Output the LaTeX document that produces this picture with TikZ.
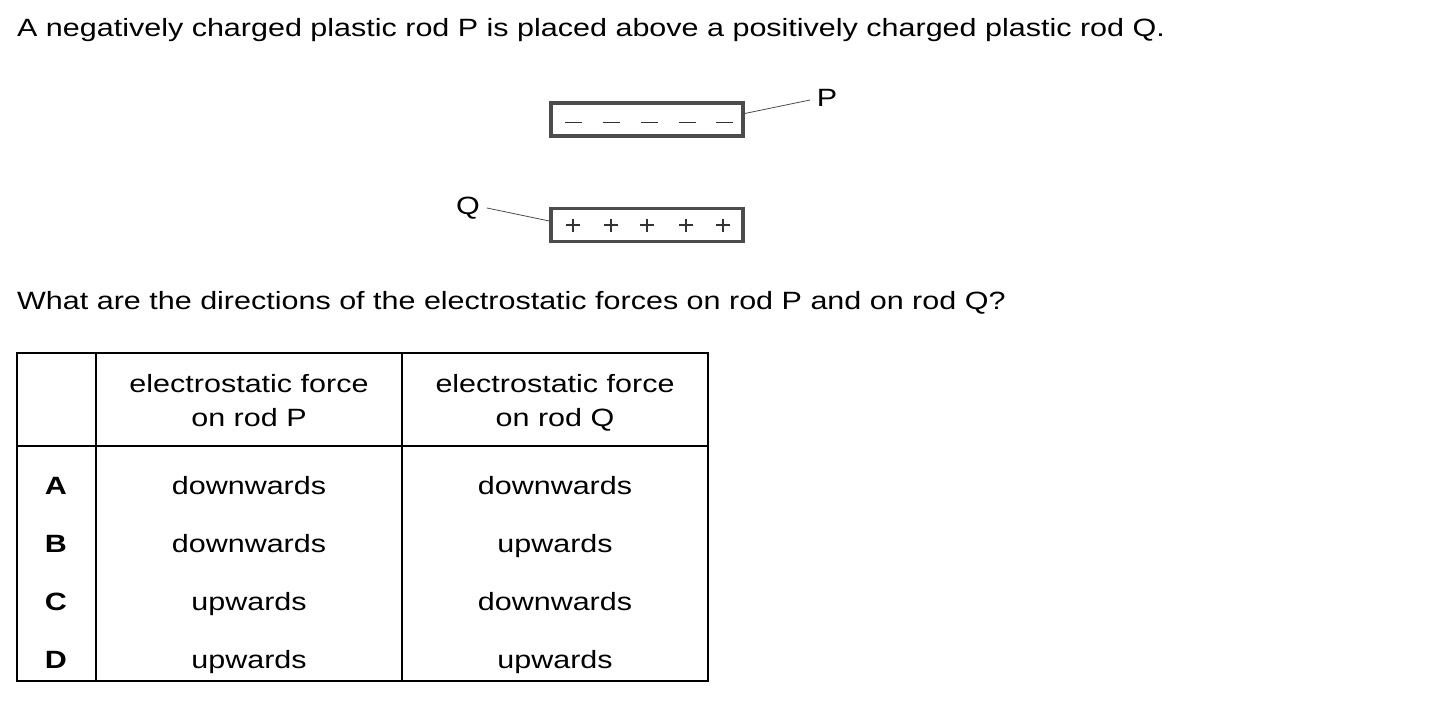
\documentclass[tikz,border=0pt]{standalone}
\usepackage{fontspec}
\setmainfont{Liberation Sans}[FakeStretch=1.22]
\begin{document}
\begin{tikzpicture}[x=1pt,y=-1pt,
  txt/.style={inner sep=0pt,text height=18pt,text depth=5pt,font=\fontsize{25}{34}\selectfont},
  rod/.style={draw=black!70,line width=3.5pt,minimum width=192pt,minimum height=33pt,inner sep=0pt},
  chg/.style={line width=1.4pt,black!80},
  leader/.style={line width=0.8pt,black!70},
  grid/.style={line width=1.4pt}]
\useasboundingbox (0,0) rectangle (1442,706);
\node[txt,anchor=west] (t1) at (17,30.5) {A negatively charged plastic rod P is placed above a positively charged plastic rod Q.};
% rod P
\node[rod] (rodP) at (647,119.5) {};
\foreach \x in {573,611,649,687,724} \draw[chg] (\x-8.5,122.5) -- (\x+8.5,122.5);
\node[txt] (lP) at (827,100) {P};
\coordinate (pE) at (810,100);
\draw[leader] (rodP.east) ++(0,-6) coordinate (pS) -- (pE);
% rod Q
\node[rod] (rodQ) at (647,225) {};
\foreach \x in {573,611,647,686,723} {\draw[chg] (\x-7,225) -- (\x+7,225); \draw[chg] (\x,218.5) -- (\x,231.5);}
\node[txt] (lQ) at (468,208) {Q};
\coordinate (qE) at (487,208);
\draw[leader] (rodQ.west) ++(0,-4) coordinate (qS) -- (qE);
\node[txt,anchor=west] (t2) at (17,302.5) {What are the directions of the electrostatic forces on rod P and on rod Q?};
% table
\draw[grid] (17,353) rectangle (708,681);
\draw[grid] (17,446) -- (708,446);
\draw[grid] (96,353) -- (96,681);
\draw[grid] (402,353) -- (402,681);
\node[txt] (h1a) at (249,385.5) {electrostatic force};
\node[txt] (h1b) at (249,419.5) {on rod P};
\node[txt] (h2a) at (555,385.5) {electrostatic force};
\node[txt] (h2b) at (555,419.5) {on rod Q};
\foreach \l/\p/\q/\y in {A/downwards/downwards/487.5,B/downwards/upwards/545.5,C/upwards/downwards/603.5,D/upwards/upwards/661.5} {
  \node[txt,font=\fontsize{25}{34}\selectfont\bfseries] at (56,\y) {\l};
  \node[txt] at (249,\y) {\p};
  \node[txt] at (555,\y) {\q};
}
\end{tikzpicture}
\end{document}
